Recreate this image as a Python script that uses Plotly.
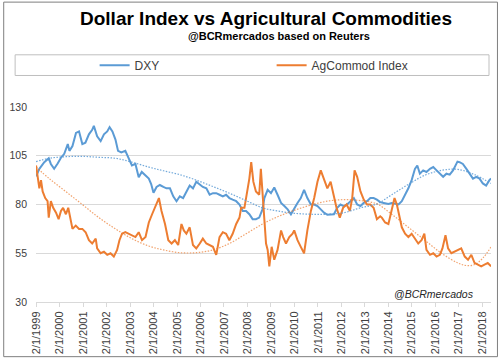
import plotly.graph_objects as go
from datetime import datetime, timedelta

# ---- data (time as fractional years) ----
dxy_t = [1999.0, 1999.14, 1999.35, 1999.54, 1999.63, 1999.77, 1999.92, 2000.06, 2000.2, 2000.35,
         2000.42, 2000.55, 2000.7, 2000.83, 2000.97, 2001.1, 2001.25, 2001.39, 2001.46, 2001.6,
         2001.75, 2001.89, 2002.03, 2002.13, 2002.25, 2002.38, 2002.49, 2002.63, 2002.8, 2002.94,
         2003.08, 2003.23, 2003.37, 2003.5, 2003.66, 2003.8, 2003.9, 2004.0, 2004.13, 2004.27,
         2004.42, 2004.55, 2004.7, 2004.84, 2004.98, 2005.12, 2005.26, 2005.4, 2005.54, 2005.68,
         2005.82, 2005.97, 2006.1, 2006.25, 2006.39, 2006.53, 2006.67, 2006.81, 2006.95, 2007.09,
         2007.23, 2007.37, 2007.52, 2007.66, 2007.8, 2007.94, 2008.08, 2008.22, 2008.36, 2008.5,
         2008.64, 2008.72, 2008.86, 2009.0, 2009.14, 2009.28, 2009.43, 2009.57, 2009.71, 2009.85,
         2009.99, 2010.13, 2010.27, 2010.41, 2010.55, 2010.7, 2010.84, 2010.98, 2011.12, 2011.26,
         2011.4, 2011.54, 2011.68, 2011.82, 2011.96, 2012.1, 2012.24, 2012.39, 2012.53, 2012.67,
         2012.81, 2012.95, 2013.09, 2013.23, 2013.37, 2013.51, 2013.65, 2013.8, 2014.0, 2014.14,
         2014.29, 2014.43, 2014.57, 2014.71, 2014.85, 2014.99, 2015.13, 2015.23, 2015.34, 2015.48,
         2015.62, 2015.77, 2015.91, 2016.05, 2016.19, 2016.33, 2016.47, 2016.61, 2016.75, 2016.94,
         2017.03, 2017.17, 2017.32, 2017.46, 2017.6, 2017.74, 2017.88, 2018.02, 2018.16, 2018.3,
         2018.37]
dxy_v = [94.5, 98.3, 101.7, 103.7, 100.8, 98.3, 101.0, 104.0, 106.0, 111.0,
         107.5, 110.0, 116.7, 117.5, 111.0, 111.7, 116.0, 118.3, 120.3, 115.0,
         112.5, 116.0, 117.5, 119.7, 117.5, 113.3, 107.5, 106.7, 107.5, 104.0,
         100.0, 100.8, 94.0, 96.7, 95.0, 93.3, 90.5, 86.0, 89.0, 90.0,
         89.0, 88.3, 88.3, 84.2, 81.7, 84.2, 83.3, 86.7, 89.7, 88.3,
         91.7, 90.3, 89.0, 88.3, 85.0, 85.8, 85.8, 85.0, 84.2, 85.0,
         83.3, 82.5, 81.7, 80.0, 76.7, 76.7, 75.0, 72.5, 72.5, 73.3,
         77.5, 83.3, 87.5, 85.8, 88.7, 85.0, 80.8, 79.2, 77.5, 75.0,
         78.3, 80.8, 83.3, 87.5, 83.3, 80.0, 80.0, 79.2, 77.5, 75.8,
         74.7, 75.0, 75.0, 78.3, 80.0, 79.2, 80.0, 81.7, 83.3, 80.0,
         79.2, 80.8, 81.7, 83.3, 83.3, 82.5, 81.2, 80.8, 80.3, 80.8,
         80.3, 80.0, 81.7, 85.0, 88.3, 92.5, 98.3, 100.0, 95.8, 97.5,
         96.7, 98.3, 99.2, 97.5, 95.8, 94.2, 95.8, 95.3, 97.5, 102.0,
         101.7, 100.8, 98.3, 95.8, 93.3, 94.2, 93.3, 90.8, 89.7, 92.5,
         93.3]

ag_t = [1999.0, 1999.07, 1999.14, 1999.21, 1999.28, 1999.39, 1999.49, 1999.54, 1999.63, 1999.73,
        1999.85, 1999.96, 2000.06, 2000.15, 2000.27, 2000.37, 2000.48, 2000.55, 2000.69, 2000.83,
        2000.97, 2001.11, 2001.25, 2001.39, 2001.54, 2001.6, 2001.75, 2001.89, 2002.03, 2002.17,
        2002.31, 2002.45, 2002.55, 2002.66, 2002.8, 2002.94, 2003.08, 2003.23, 2003.37, 2003.51,
        2003.66, 2003.8, 2003.94, 2004.06, 2004.13, 2004.23, 2004.34, 2004.49, 2004.63, 2004.77,
        2004.91, 2005.05, 2005.19, 2005.29, 2005.4, 2005.54, 2005.68, 2005.82, 2005.97, 2006.1,
        2006.25, 2006.39, 2006.53, 2006.67, 2006.81, 2006.95, 2007.09, 2007.23, 2007.37, 2007.52,
        2007.66, 2007.73, 2007.87, 2008.01, 2008.08, 2008.16, 2008.25, 2008.36, 2008.5, 2008.57,
        2008.64, 2008.72, 2008.79, 2008.86, 2008.93, 2009.03, 2009.14, 2009.28, 2009.43, 2009.52,
        2009.64, 2009.78, 2009.92, 2009.99, 2010.13, 2010.27, 2010.41, 2010.55, 2010.7, 2010.84,
        2010.98, 2011.12, 2011.26, 2011.4, 2011.54, 2011.68, 2011.79, 2011.93, 2012.07, 2012.22,
        2012.36, 2012.46, 2012.56, 2012.67, 2012.81, 2012.95, 2013.09, 2013.23, 2013.37, 2013.51,
        2013.65, 2013.72, 2013.86, 2014.0, 2014.14, 2014.26, 2014.36, 2014.45, 2014.57, 2014.71,
        2014.85, 2014.99, 2015.13, 2015.27, 2015.41, 2015.53, 2015.62, 2015.77, 2015.91, 2016.05,
        2016.19, 2016.3, 2016.43, 2016.54, 2016.68, 2016.82, 2016.96, 2017.1, 2017.25, 2017.39,
        2017.53, 2017.67, 2017.81, 2017.95, 2018.09, 2018.23, 2018.37]
ag_v = [100.0, 95.0, 88.3, 92.5, 86.7, 83.3, 81.7, 73.3, 81.7, 78.3,
        75.8, 72.5, 76.7, 78.3, 75.0, 78.3, 70.8, 67.5, 69.2, 67.5,
        67.5, 65.8, 61.7, 60.0, 62.5, 57.5, 55.0, 55.8, 54.2, 55.0,
        53.3, 56.7, 61.7, 65.0, 65.8, 65.0, 64.2, 63.3, 65.8, 61.7,
        63.3, 70.8, 75.0, 78.3, 80.0, 83.3, 76.7, 70.0, 61.7, 60.0,
        61.7, 59.2, 70.0, 66.7, 65.0, 68.3, 59.2, 57.5, 60.0, 62.5,
        60.0, 59.2, 58.3, 54.2, 63.3, 65.8, 65.0, 61.7, 65.0, 70.0,
        73.3, 78.3, 78.3, 88.3, 93.3, 101.7, 91.7, 86.7, 85.0, 98.3,
        86.7, 70.0, 60.0, 56.7, 48.3, 58.3, 51.7, 56.7, 66.7, 63.3,
        60.0, 63.3, 65.0, 66.7, 61.7, 58.3, 55.0, 66.7, 76.7, 83.3,
        91.7, 97.5, 93.3, 88.3, 91.7, 83.3, 78.3, 73.3, 78.3, 80.0,
        76.7, 83.3, 97.5, 94.2, 86.7, 82.5, 80.0, 80.0, 78.3, 72.5,
        74.0, 73.3, 70.8, 70.0, 76.7, 83.3, 80.0, 75.0, 68.3, 65.0,
        63.3, 65.0, 62.5, 60.0, 61.7, 65.0, 56.7, 54.2, 55.0, 53.3,
        54.2, 57.5, 64.2, 57.5, 55.0, 55.8, 56.7, 57.5, 53.3, 51.7,
        54.2, 50.0, 49.2, 48.3, 49.2, 50.0, 48.3]

# polynomial trend lines, as drawn in the reference
dxy_trend_t = [1999.0, 1999.56, 2000.26, 2000.97, 2001.67, 2002.38, 2003.08, 2003.8, 2004.42,
               2005.12, 2005.82, 2006.53, 2007.23, 2007.94, 2008.64, 2009.28, 2009.99, 2010.7,
               2011.4, 2012.1, 2012.81, 2013.51, 2014.14, 2014.85, 2015.55, 2016.26, 2016.96,
               2017.67, 2018.37]
dxy_trend_v = [102.0, 103.7, 104.5, 104.7, 104.2, 103.7, 101.7, 99.2, 97.3,
               95.3, 92.5, 89.2, 85.8, 82.0, 78.3, 76.7, 75.5, 75.0,
               75.0, 75.8, 78.3, 80.3, 85.0, 90.3, 95.0, 97.5, 98.0,
               95.3, 90.8]
ag_trend_t = [1999.0, 1999.56, 2000.26, 2000.97, 2001.67, 2002.38, 2003.08, 2003.8, 2004.42,
              2005.12, 2005.82, 2006.53, 2007.23, 2007.94, 2008.64, 2009.28, 2009.99, 2010.7,
              2011.4, 2012.1, 2012.81, 2013.51, 2014.14, 2014.85, 2015.55, 2016.26, 2016.96,
              2017.32, 2017.67, 2018.02, 2018.37]
ag_trend_v = [99.2, 93.3, 86.7, 80.0, 73.3, 67.5, 62.5, 58.7, 56.7,
              55.3, 55.3, 56.7, 60.0, 65.0, 70.0, 73.7, 77.0, 79.7,
              81.7, 82.5, 82.0, 80.3, 75.0, 68.3, 61.7, 55.0, 50.0,
              48.7, 49.2, 52.5, 58.3]

year_ticks = list(range(1999, 2019))
tick_labels = ["2/1/%d" % y for y in year_ticks]

# ---- helpers ----
BASE = datetime(1999, 1, 2)
def to_date(t):
    return BASE + timedelta(days=(t - 1999.0) * 365.25)

W, H = 500, 363
ml, mr, mt, mb = 33, 9, 107, 58
pw, ph = W - ml - mr, H - mt - mb
def px(x):
    return (x - ml) / pw
def py(y):
    return (H - mb - y) / ph

BLUE = "#5B9BD5"
ORANGE = "#ED7D31"

fig = go.Figure()
fig.add_trace(go.Scatter(x=[to_date(t) for t in dxy_t], y=dxy_v, name="DXY", mode="lines",
                         line=dict(color=BLUE, width=2)))
fig.add_trace(go.Scatter(x=[to_date(t) for t in ag_t], y=ag_v, name="AgCommod Index", mode="lines",
                         line=dict(color=ORANGE, width=2)))
fig.add_trace(go.Scatter(x=[to_date(t) for t in dxy_trend_t], y=dxy_trend_v, mode="lines",
                         showlegend=False, hoverinfo="skip",
                         line=dict(color=BLUE, width=1.2, dash="1.5px,1.5px", shape="spline",
                                   smoothing=1),
                         opacity=0.85))
fig.add_trace(go.Scatter(x=[to_date(t) for t in ag_trend_t], y=ag_trend_v, mode="lines",
                         showlegend=False, hoverinfo="skip",
                         line=dict(color=ORANGE, width=1.2, dash="1.5px,1.5px", shape="spline",
                                   smoothing=1),
                         opacity=0.7))

fig.update_layout(
    width=W, height=H,
    margin=dict(l=ml, r=mr, t=mt, b=mb),
    paper_bgcolor="white", plot_bgcolor="white",
    font=dict(family="Liberation Sans, Arial, sans-serif", color="#404040"),
    showlegend=True,
    legend=dict(orientation="h", x=px(92), y=py(64.5), xanchor="left", yanchor="middle",
                font=dict(size=12, color="#404040"), bgcolor="rgba(0,0,0,0)",
                entrywidth=132, entrywidthmode="pixels", itemwidth=30),
    xaxis=dict(type="date", range=[datetime(1999, 1, 1), datetime(2018, 5, 16)],
               tickvals=[datetime(y, 1, 2) for y in year_ticks], ticktext=tick_labels,
               tickangle=-90, tickfont=dict(size=11, color="#404040"),
               showgrid=False, showline=True, linecolor="#D9D9D9", linewidth=1,
               ticks="outside", ticklen=4, tickcolor="#D9D9D9", zeroline=False),
    yaxis=dict(range=[30, 130], tickvals=[30, 55, 80, 105, 130],
               tickfont=dict(size=10.5, color="#404040"),
               showgrid=True, gridcolor="#D9D9D9", gridwidth=1, showline=False,
               zeroline=False, ticks="", ticklabelstandoff=8),
    shapes=[
        dict(type="rect", xref="paper", yref="paper", x0=px(12), x1=px(489), y0=py(54), y1=py(75),
             line=dict(color="#BFBFBF", width=1), fillcolor="rgba(0,0,0,0)", layer="below"),
        dict(type="rect", xref="paper", yref="paper", x0=px(0.5), x1=px(497.5), y0=py(0.5), y1=py(360.5),
             line=dict(color="#7F7F7F", width=1), fillcolor="rgba(0,0,0,0)", layer="below"),
    ],
    annotations=[
        dict(text="<b>Dollar Index vs Agricultural Commodities</b>", x=px(264.5), y=py(17),
             xref="paper", yref="paper", xanchor="center", yanchor="middle", showarrow=False,
             font=dict(size=19, color="#000000", family="Liberation Sans, Arial, sans-serif")),
        dict(text="<b>@BCRmercados based on Reuters</b>", x=px(278), y=py(34.5),
             xref="paper", yref="paper", xanchor="center", yanchor="middle", showarrow=False,
             font=dict(size=11, color="#000000", family="Liberation Sans, Arial, sans-serif")),
        dict(text="<i>@BCRmercados</i>", x=px(475.5), y=py(297), xref="paper", yref="paper",
             xanchor="right", yanchor="middle", showarrow=False,
             font=dict(size=10.5, color="#262626", family="Liberation Sans, Arial, sans-serif")),
    ],
)

fig.write_html("out.html", config={"displayModeBar": False},
               post_script="document.body.style.margin='0';document.body.style.overflow='hidden';")
